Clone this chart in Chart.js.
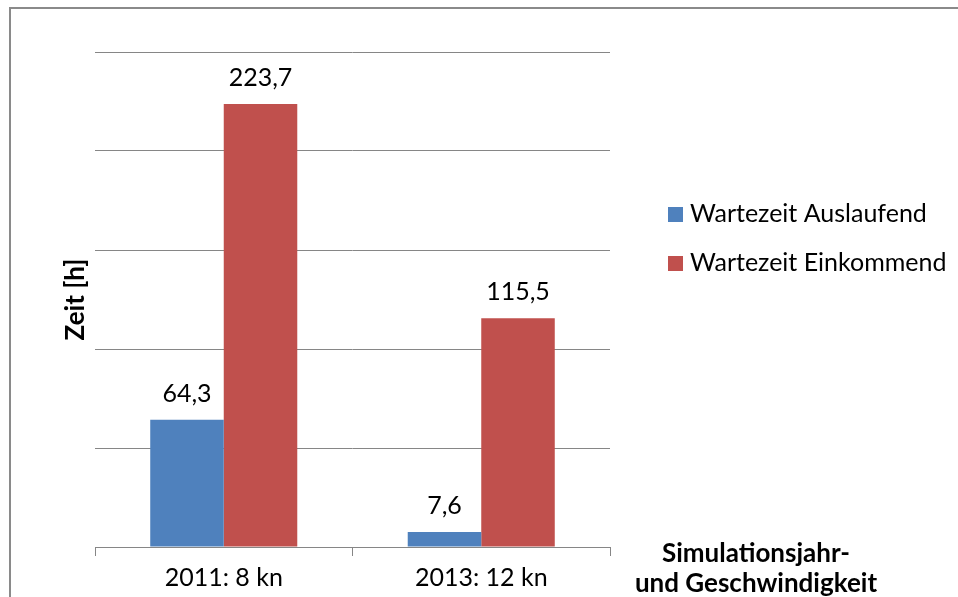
<!DOCTYPE html>
<html>
<head>
<meta charset="utf-8">
<script src="https://cdn.jsdelivr.net/npm/chart.js@4"></script>
<style>
    html, body { margin: 0; padding: 0; background: #fff; overflow: hidden; }
    #wrap { position: relative; width: 958px; height: 597px; }
    #frame { position: absolute; left: 9px; top: 7px; width: 1000px; height: 1000px; border: 2px solid #8a8a8a; box-sizing: border-box; }
    #chart { position: absolute; left: 0; top: 0; }
</style>
</head>
<body>
<div id="wrap">
    <div id="frame"></div>
    <canvas id="chart" width="958" height="597"></canvas>
</div>
<script>
const categories = ['2011: 8 kn', '2013: 12 kn'];
const seriesNames = ['Wartezeit Auslaufend', 'Wartezeit Einkommend'];
const auslaufend = [64.3, 7.6];
const einkommend = [223.7, 115.5];
const yTicks = [0, 50, 100, 150, 200, 250];
const xTitleLines = ['Simulationsjahr-', 'und Geschwindigkeit'];

const FONT = 'Lato, Carlito, Calibri, sans-serif';
const GRID = '#868686';

function fmt(v) {
    return v.toFixed(1).replace('.', ',');
}

const valueLabels = {
    id: 'valueLabels',
    afterDatasetsDraw(chart) {
        const ctx = chart.ctx;
        ctx.save();
        ctx.font = '25px ' + FONT;
        ctx.fillStyle = '#000';
        ctx.textAlign = 'center';
        ctx.textBaseline = 'alphabetic';
        chart.data.datasets.forEach((ds, i) => {
            chart.getDatasetMeta(i).data.forEach((bar, j) => {
                ctx.fillText(fmt(ds.data[j]), bar.x, bar.y - 18);
            });
        });
        ctx.restore();
    }
};

// legend and x title sit to the right of the plot, drawn by hand
const sideTexts = {
    id: 'sideTexts',
    afterDraw(chart) {
        const ctx = chart.ctx;
        const area = chart.chartArea;
        ctx.save();
        ctx.font = '25px ' + FONT;
        ctx.textAlign = 'left';
        ctx.textBaseline = 'alphabetic';
        chart.data.datasets.forEach((ds, i) => {
            const cy = area.top + 162 + i * 49;
            ctx.fillStyle = ds.backgroundColor;
            ctx.fillRect(area.right + 58, cy - 7, 15, 15);
            ctx.fillStyle = '#000';
            ctx.fillText(ds.label, area.right + 80, cy + 8);
        });
        ctx.font = 'bold 26px ' + FONT;
        ctx.textAlign = 'center';
        xTitleLines.forEach((line, i) => {
            ctx.fillText(line, area.right + 146, area.bottom + 15 + i * 30);
        });
        ctx.restore();
    }
};

new Chart(document.getElementById('chart'), {
    type: 'bar',
    data: {
        labels: categories,
        datasets: [
            {
                label: seriesNames[0],
                data: auslaufend,
                backgroundColor: '#4F81BD',
                categoryPercentage: 0.571,
                barPercentage: 1
            },
            {
                label: seriesNames[1],
                data: einkommend,
                backgroundColor: '#C0504D',
                categoryPercentage: 0.571,
                barPercentage: 1
            }
        ]
    },
    options: {
        responsive: false,
        animation: false,
        layout: {
            padding: { left: 60, top: 52, right: 348, bottom: 0 }
        },
        scales: {
            x: {
                afterFit: scale => { scale.height = 50; },
                grid: {
                    offset: true,
                    drawOnChartArea: false,
                    tickLength: 9,
                    color: GRID
                },
                border: { color: GRID, width: 1 },
                ticks: {
                    color: '#000',
                    padding: 7,
                    font: { family: FONT, size: 25 }
                }
            },
            y: {
                min: 0,
                max: yTicks[yTicks.length - 1],
                afterFit: scale => { scale.width = 35; },
                afterBuildTicks: scale => { scale.ticks = yTicks.map(v => ({ value: v })); },
                grid: {
                    color: GRID,
                    drawTicks: false
                },
                border: { display: false },
                ticks: { display: false },
                title: {
                    display: true,
                    text: 'Zeit [h]',
                    color: '#000',
                    padding: 0,
                    font: { family: FONT, size: 26, weight: 'bold' }
                }
            }
        },
        plugins: {
            legend: { display: false },
            tooltip: { enabled: false }
        }
    },
    plugins: [valueLabels, sideTexts]
});
</script>
</body>
</html>
